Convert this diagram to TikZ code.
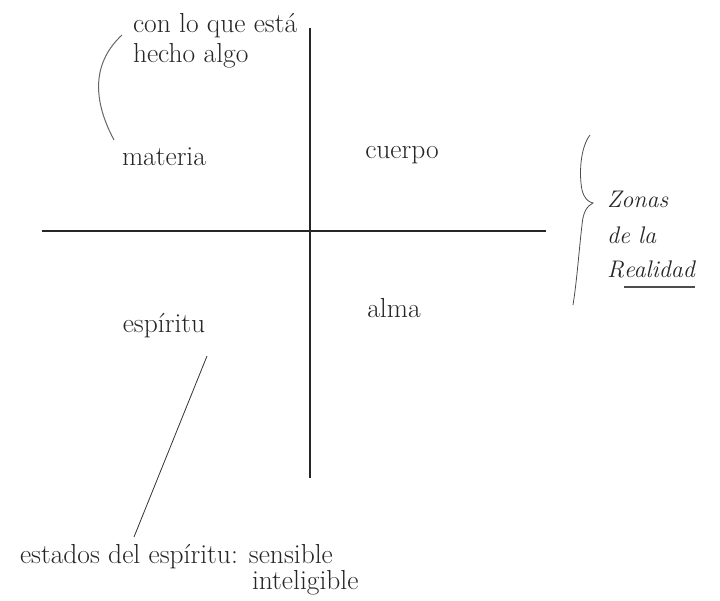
\documentclass[tikz,border=0pt]{standalone}
\usetikzlibrary{calc}
\begin{document}
\begin{tikzpicture}[x=1pt,y=-1pt,
  lbl/.style={inner sep=0pt,outer sep=0pt,text=black!85,font=\fontsize{27.5}{32}\selectfont},
  itl/.style={inner sep=0pt,outer sep=0pt,text=black!85,font=\fontsize{24}{30}\selectfont\itshape},
  axis/.style={draw=black!85,line width=1.4pt},
  lead/.style={draw=black!60,line width=1pt},
  thin/.style={draw=black!80,line width=0.8pt}]
\useasboundingbox[fill=white] (0,0) rectangle (720,600);
% axes
\coordinate (vt) at (310,28);
\coordinate (vb) at (310,478);
\coordinate (hl) at (42,231);
\coordinate (hr) at (546,231);
\draw[axis] (vt) -- (vb);
\draw[axis] (hl) -- (hr);
% labels
\node[lbl,anchor=base west] (con) at (133,32) {con lo que está};
\node[lbl,anchor=base west] (hecho) at (133,62) {hecho algo};
\node[lbl,anchor=base] (materia) at (164,165) {materia};
\node[lbl,anchor=base] (cuerpo) at (402,158) {cuerpo};
\node[lbl,anchor=base] (alma) at (394,317) {alma};
\node[lbl,anchor=base] (espiritu) at (164,332) {espíritu};
\node[lbl,anchor=base west] (estados) at (20,563) {estados del espíritu: sensible};
\node[lbl,anchor=base west] (intel) at (252,589) {inteligible};
\node[itl,anchor=base west] (zonas) at (607,207) {Zonas};
\node[itl,anchor=base west] (dela) at (607,243) {de la};
\node[itl,anchor=base west] (R) at (607,277) {R};
\node[itl,anchor=base west] (ealidad) at (R.base east) {ealidad};
\draw[draw=black!70,line width=1.3pt] ($(ealidad.base west)+(0,10)$) -- ($(ealidad.base east)+(0,10)$);
% leaders
\coordinate (c1) at (122,35);
\coordinate (c2) at (114,140);
\draw[lead] (c1) .. controls (95,60) and (90,95) .. (c2);
\coordinate (e1) at (207,356);
\coordinate (e2) at (134,537);
\draw[thin] (e1) -- (e2);
% brace
\coordinate (bt) at (590,135);
\coordinate (bm) at (593,203);
\coordinate (bb) at (573,305);
\draw[draw=black!70,line width=0.8pt] (bt) .. controls (580,148) and (579,175) .. (582,190)
  .. controls (584,198) and (588,202) .. (bm)
  .. controls (587,206) and (583,212) .. (582,225)
  .. controls (579,250) and (577,280) .. (bb);
\end{tikzpicture}
\end{document}
